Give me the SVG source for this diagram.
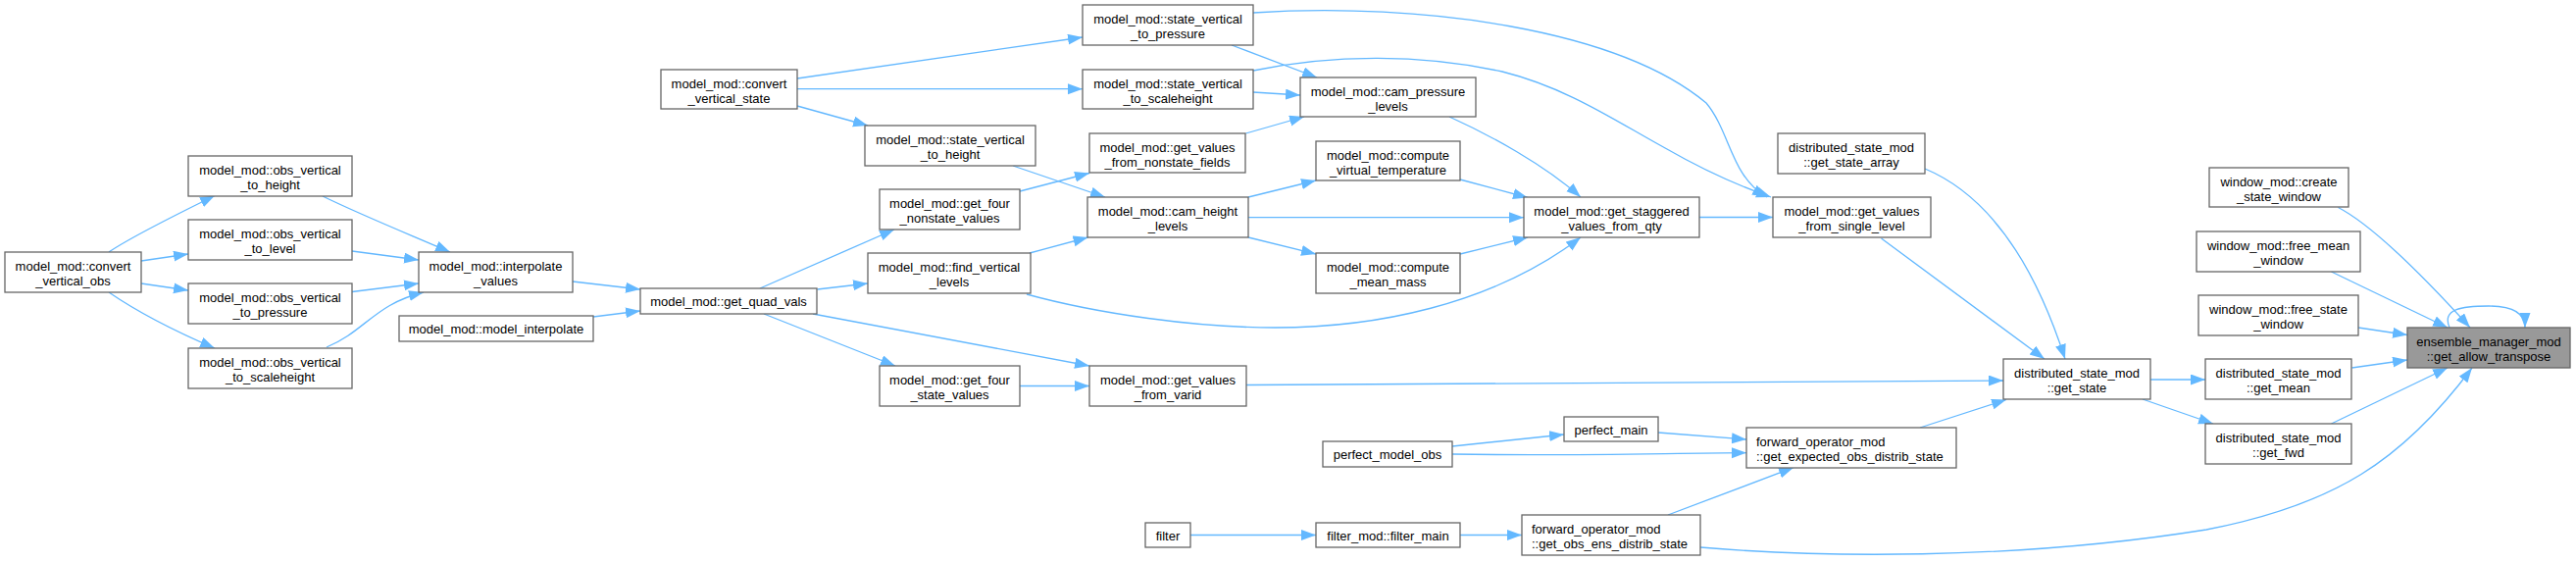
<svg xmlns="http://www.w3.org/2000/svg" width="2627" height="574" viewBox="0 0 2627 574">
<style>
.node rect{fill:#ffffff;stroke:#666666;stroke-width:1.3}
.node.hl rect{fill:#999999}
.node text{font-family:"Liberation Sans",Arial,Helvetica,sans-serif;font-size:13px;fill:#000000;text-anchor:middle}
.node text.l{text-anchor:start}
.edge path{fill:none;stroke:#63b8ff;stroke-width:1.3;marker-end:url(#ah)}
</style>
<defs>
<marker id="ah" markerUnits="userSpaceOnUse" markerWidth="16" markerHeight="12" refX="15" refY="5.5" orient="auto">
<path d="M0,0 L15,5.5 L0,11 z" fill="#63b8ff" stroke="none"/>
</marker>
</defs>
<rect width="2627" height="574" fill="#ffffff"/>
<g id="edges" class="edge">
<path d="M111,257 C130,244 165,226 219,199.5"/>
<path d="M144,266 L192,259"/>
<path d="M144,289 L192,296"/>
<path d="M111,298 C130,311 165,332 219,355"/>
<path d="M329,200 C370,220 420,240 459,257"/>
<path d="M359,256 L427,265"/>
<path d="M359,297.5 L427,289"/>
<path d="M333,354 C372,338 382,310 432,298"/>
<path d="M584,287 L653,295"/>
<path d="M605,323 L653,317"/>
<path d="M775,294 L912,234"/>
<path d="M833.5,295 L885,289"/>
<path d="M779,320 L913,373"/>
<path d="M829,320 L1111,373"/>
<path d="M1040,393.5 L1111,393.5"/>
<path d="M813,80 L1104,38"/>
<path d="M813,90.7 L1104,90.7"/>
<path d="M813,108 L885,128"/>
<path d="M1033,169 L1127,201"/>
<path d="M1040,195 L1111,176.5"/>
<path d="M1050,258 L1109.5,242"/>
<path d="M1047,300 C1120,320 1220,334 1300,334 C1400,334 1520,312 1612,242"/>
<path d="M1256,46 L1343,79"/>
<path d="M1278,13 C1450,2 1650,30 1740,105 C1765,135 1765,180 1802,201"/>
<path d="M1278,94 L1326,97"/>
<path d="M1278,72 C1360,55 1450,55 1532,73 C1600,90 1650,125 1700,152 C1740,175 1775,190 1806,201"/>
<path d="M1270.5,136 L1330,119"/>
<path d="M1273,201 L1342,184"/>
<path d="M1273,221.7 L1554,221.7"/>
<path d="M1273,242 L1342,259"/>
<path d="M1478,119 C1520,138 1575,168 1612,201"/>
<path d="M1489,183 L1558,201.5"/>
<path d="M1489,259 L1558,242"/>
<path d="M1732.5,221.5 L1808,221.5"/>
<path d="M1271,392.5 C1600,392 1900,388 2043,388"/>
<path d="M1963,172 C2030,200 2075,270 2106,366"/>
<path d="M1918.5,243 L2085,366"/>
<path d="M1481,455 L1595,443"/>
<path d="M1481,463 C1600,465 1700,462 1781,461.7"/>
<path d="M1691,441 L1781,448"/>
<path d="M1214,545.5 L1342,545.5"/>
<path d="M1489,545.5 L1552,545.5"/>
<path d="M1701,525 L1829,476.7"/>
<path d="M1734,558 C1850,568 2050,572 2250,540 C2380,515 2450,470 2521,375"/>
<path d="M1958,436 L2046,407.5"/>
<path d="M2193,387 L2249,387"/>
<path d="M2185,407 L2257,432"/>
<path d="M2384.5,211.5 C2420,230 2470,280 2519,334"/>
<path d="M2377.5,277 L2496,334"/>
<path d="M2405,334 L2455,341.5"/>
<path d="M2398.5,375 L2455,367"/>
<path d="M2377.5,432 L2496,375"/>
<path d="M2498,334 C2490,315 2510,312 2538,312 C2560,312 2575,318 2575,334"/>
</g>
<g id="n_convert_vertical_obs" class="node"><rect x="5" y="257" width="139" height="41"/><text x="74.5" y="276">model_mod::convert</text><text x="74.5" y="290.5">_vertical_obs</text></g>
<g id="n_obs_vertical_to_height" class="node"><rect x="192" y="159" width="167" height="41"/><text x="275.5" y="178">model_mod::obs_vertical</text><text x="275.5" y="192.5">_to_height</text></g>
<g id="n_obs_vertical_to_level" class="node"><rect x="192" y="224" width="167" height="41"/><text x="275.5" y="243">model_mod::obs_vertical</text><text x="275.5" y="257.5">_to_level</text></g>
<g id="n_obs_vertical_to_pressure" class="node"><rect x="192" y="289" width="167" height="41"/><text x="275.5" y="308">model_mod::obs_vertical</text><text x="275.5" y="322.5">_to_pressure</text></g>
<g id="n_obs_vertical_to_scaleheight" class="node"><rect x="192" y="355" width="167" height="41"/><text x="275.5" y="374">model_mod::obs_vertical</text><text x="275.5" y="388.5">_to_scaleheight</text></g>
<g id="n_interpolate_values" class="node"><rect x="427" y="257" width="157" height="41"/><text x="505.5" y="276">model_mod::interpolate</text><text x="505.5" y="290.5">_values</text></g>
<g id="n_model_interpolate" class="node"><rect x="407" y="322" width="198" height="26"/><text x="506" y="339.5">model_mod::model_interpolate</text></g>
<g id="n_get_quad_vals" class="node"><rect x="653" y="294" width="180" height="26"/><text x="743" y="311.5">model_mod::get_quad_vals</text></g>
<g id="n_convert_vertical_state" class="node"><rect x="674" y="71" width="139" height="40"/><text x="743.5" y="90">model_mod::convert</text><text x="743.5" y="104.5">_vertical_state</text></g>
<g id="n_state_vertical_to_height" class="node"><rect x="882" y="128" width="174" height="41"/><text x="969" y="147">model_mod::state_vertical</text><text x="969" y="161.5">_to_height</text></g>
<g id="n_get_four_nonstate_values" class="node"><rect x="897" y="193" width="143" height="41"/><text x="968.5" y="212">model_mod::get_four</text><text x="968.5" y="226.5">_nonstate_values</text></g>
<g id="n_find_vertical_levels" class="node"><rect x="885" y="258" width="166" height="41"/><text x="968" y="277">model_mod::find_vertical</text><text x="968" y="291.5">_levels</text></g>
<g id="n_get_four_state_values" class="node"><rect x="897" y="373" width="143" height="41"/><text x="968.5" y="392">model_mod::get_four</text><text x="968.5" y="406.5">_state_values</text></g>
<g id="n_state_vertical_to_pressure" class="node"><rect x="1104" y="5" width="174" height="41"/><text x="1191" y="24">model_mod::state_vertical</text><text x="1191" y="38.5">_to_pressure</text></g>
<g id="n_state_vertical_to_scaleheight" class="node"><rect x="1104" y="71" width="174" height="40"/><text x="1191" y="90">model_mod::state_vertical</text><text x="1191" y="104.5">_to_scaleheight</text></g>
<g id="n_get_values_from_nonstate_fields" class="node"><rect x="1111" y="136" width="159" height="40"/><text x="1190.5" y="155">model_mod::get_values</text><text x="1190.5" y="169.5">_from_nonstate_fields</text></g>
<g id="n_cam_height_levels" class="node"><rect x="1109" y="201" width="164" height="41"/><text x="1191" y="220">model_mod::cam_height</text><text x="1191" y="234.5">_levels</text></g>
<g id="n_get_values_from_varid" class="node"><rect x="1111" y="373" width="160" height="41"/><text x="1191" y="392">model_mod::get_values</text><text x="1191" y="406.5">_from_varid</text></g>
<g id="n_filter" class="node"><rect x="1168" y="533" width="46" height="25"/><text x="1191" y="550.5">filter</text></g>
<g id="n_cam_pressure_levels" class="node"><rect x="1326" y="79" width="179" height="40"/><text x="1415.5" y="98">model_mod::cam_pressure</text><text x="1415.5" y="112.5">_levels</text></g>
<g id="n_compute_virtual_temperature" class="node"><rect x="1342" y="144" width="147" height="40"/><text x="1415.5" y="163">model_mod::compute</text><text x="1415.5" y="177.5">_virtual_temperature</text></g>
<g id="n_compute_mean_mass" class="node"><rect x="1342" y="258" width="147" height="41"/><text x="1415.5" y="277">model_mod::compute</text><text x="1415.5" y="291.5">_mean_mass</text></g>
<g id="n_perfect_model_obs" class="node"><rect x="1349" y="450" width="132" height="26"/><text x="1415" y="467.5">perfect_model_obs</text></g>
<g id="n_filter_main" class="node"><rect x="1342" y="533" width="147" height="25"/><text x="1415.5" y="550.5">filter_mod::filter_main</text></g>
<g id="n_get_staggered_values_from_qty" class="node"><rect x="1554" y="201" width="179" height="41"/><text x="1643.5" y="220">model_mod::get_staggered</text><text x="1643.5" y="234.5">_values_from_qty</text></g>
<g id="n_perfect_main" class="node"><rect x="1595" y="425" width="96" height="25"/><text x="1643" y="442.5">perfect_main</text></g>
<g id="n_get_obs_ens_distrib_state" class="node"><rect x="1552" y="525" width="182" height="41"/><text class="l" x="1562" y="544">forward_operator_mod</text><text class="l" x="1562" y="558.5">::get_obs_ens_distrib_state</text></g>
<g id="n_get_state_array" class="node"><rect x="1813" y="136" width="150" height="41"/><text x="1888" y="155">distributed_state_mod</text><text x="1888" y="169.5">::get_state_array</text></g>
<g id="n_get_values_from_single_level" class="node"><rect x="1808" y="201" width="161" height="41"/><text x="1888.5" y="220">model_mod::get_values</text><text x="1888.5" y="234.5">_from_single_level</text></g>
<g id="n_get_expected_obs_distrib_state" class="node"><rect x="1781" y="436" width="214" height="41"/><text class="l" x="1791" y="455">forward_operator_mod</text><text class="l" x="1791" y="469.5">::get_expected_obs_distrib_state</text></g>
<g id="n_get_state" class="node"><rect x="2043" y="366" width="150" height="41"/><text x="2118" y="385">distributed_state_mod</text><text x="2118" y="399.5">::get_state</text></g>
<g id="n_create_state_window" class="node"><rect x="2253" y="171" width="142" height="40"/><text x="2324" y="190">window_mod::create</text><text x="2324" y="204.5">_state_window</text></g>
<g id="n_free_mean_window" class="node"><rect x="2240" y="236" width="167" height="41"/><text x="2323.5" y="255">window_mod::free_mean</text><text x="2323.5" y="269.5">_window</text></g>
<g id="n_free_state_window" class="node"><rect x="2242" y="301" width="163" height="41"/><text x="2323.5" y="320">window_mod::free_state</text><text x="2323.5" y="334.5">_window</text></g>
<g id="n_get_mean" class="node"><rect x="2249" y="366" width="149" height="41"/><text x="2323.5" y="385">distributed_state_mod</text><text x="2323.5" y="399.5">::get_mean</text></g>
<g id="n_get_fwd" class="node"><rect x="2249" y="432" width="149" height="41"/><text x="2323.5" y="451">distributed_state_mod</text><text x="2323.5" y="465.5">::get_fwd</text></g>
<g id="n_get_allow_transpose" class="node hl"><rect x="2455" y="334" width="166" height="41"/><text x="2538" y="353">ensemble_manager_mod</text><text x="2538" y="367.5">::get_allow_transpose</text></g>
</svg>
